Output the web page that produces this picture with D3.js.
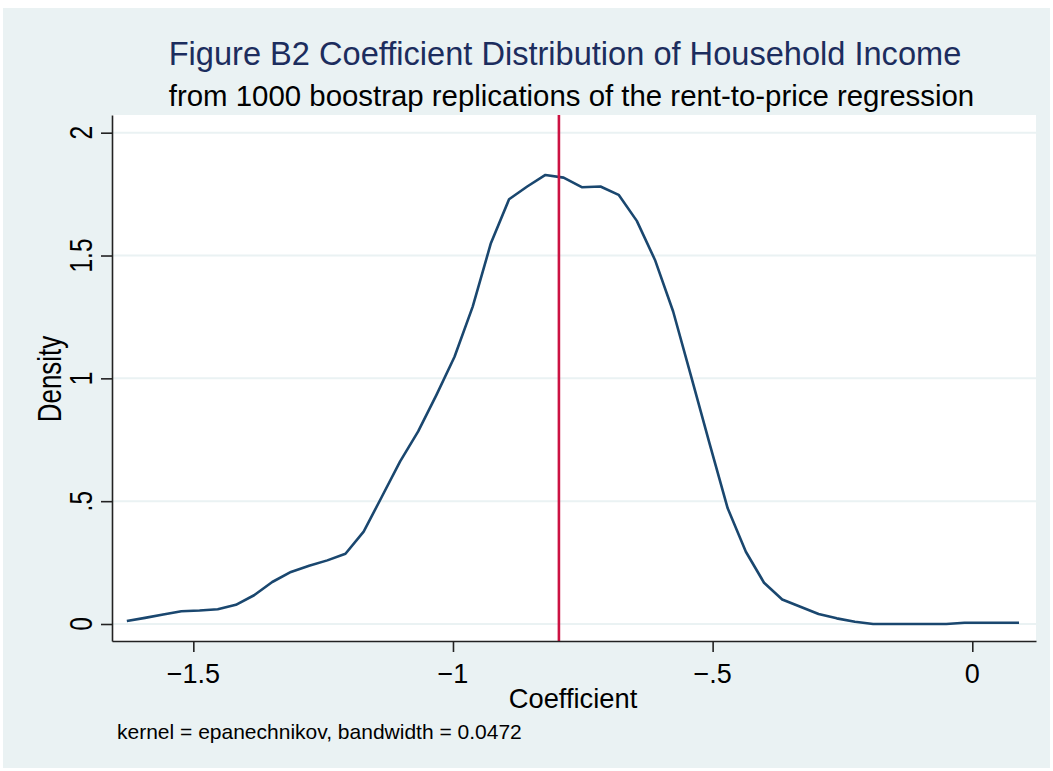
<!DOCTYPE html>
<html>
<head>
<meta charset="utf-8">
<script src="https://cdn.jsdelivr.net/npm/d3@7"></script>
<style>
  body { margin: 0; background: #fff; }
  text { font-family: "Liberation Sans", Arial, Helvetica, sans-serif; }
</style>
</head>
<body>
<div id="chart"></div>
<script>
// kernel density estimate, 50 evaluation points
var coef = [-1.628, -1.593, -1.558, -1.523, -1.488, -1.453, -1.418, -1.383, -1.348, -1.312,
            -1.277, -1.242, -1.207, -1.172, -1.137, -1.102, -1.067, -1.032, -0.997, -0.962,
            -0.927, -0.892, -0.857, -0.822, -0.787, -0.752, -0.716, -0.681, -0.646, -0.611,
            -0.576, -0.541, -0.506, -0.471, -0.436, -0.401, -0.366, -0.331, -0.296, -0.261,
            -0.226, -0.191, -0.156, -0.120, -0.085, -0.050, -0.015, 0.020, 0.055, 0.090];
var density = [0.012, 0.025, 0.039, 0.052, 0.055, 0.060, 0.078, 0.117, 0.171, 0.212,
               0.237, 0.259, 0.286, 0.376, 0.518, 0.661, 0.784, 0.932, 1.088, 1.292,
               1.550, 1.729, 1.781, 1.828, 1.817, 1.778, 1.781, 1.747, 1.641, 1.482,
               1.272, 1.005, 0.735, 0.471, 0.294, 0.168, 0.100, 0.070, 0.041, 0.023,
               0.009, 0.000, 0.000, 0.000, 0.000, 0.000, 0.005, 0.005, 0.005, 0.005];
var mean_coef = -0.796;

var x_ticks = [-1.5, -1, -0.5, 0];
var x_tick_labels = ['\u22121.5', '\u22121', '\u2212.5', '0'];
var y_ticks = [0, 0.5, 1, 1.5, 2];
var y_tick_labels = ['0', '.5', '1', '1.5', '2'];

var title = 'Figure B2 Coefficient Distribution of Household Income';
var subtitle = 'from 1000 boostrap replications of the rent-to-price regression';
var note = 'kernel = epanechnikov, bandwidth = 0.0472';

var W = 1053, H = 771;
var rot_sx = 1.25; // rotated text comes out wider in the export
var plot = {left: 112, right: 1036, top: 115, bottom: 641};
var bg = '#eaf2f3', axis_col = '#222';

var svg = d3.select('#chart').append('svg')
    .attr('width', W)
    .attr('height', H);

svg.append('rect')
    .attr('x', 3).attr('y', 8)
    .attr('width', W - 6).attr('height', H - 11)
    .attr('fill', bg);

svg.append('rect')
    .attr('x', plot.left).attr('y', plot.top)
    .attr('width', plot.right - plot.left).attr('height', plot.bottom - plot.top)
    .attr('fill', '#fff');

var x = d3.scaleLinear().domain([-1.6566, 0.1227]).range([plot.left, plot.right]);
var y = d3.scaleLinear().domain([-0.0692, 2.072]).range([plot.bottom, plot.top]);

// gridlines
svg.append('g').selectAll('line')
    .data(y_ticks)
    .enter().append('line')
    .attr('x1', plot.left).attr('x2', plot.right)
    .attr('y1', function(d){ return y(d); })
    .attr('y2', function(d){ return y(d); })
    .attr('stroke', bg)
    .attr('stroke-width', 2);

// density curve
var line = d3.line()
    .x(function(d, i){ return x(coef[i]); })
    .y(function(d){ return y(d); });

svg.append('path')
    .datum(density)
    .attr('d', line)
    .attr('fill', 'none')
    .attr('stroke', '#1a476f')
    .attr('stroke-width', 2.6)
    .attr('stroke-linejoin', 'round');

// mean coefficient
svg.append('line')
    .attr('x1', x(mean_coef)).attr('x2', x(mean_coef))
    .attr('y1', plot.top).attr('y2', plot.bottom)
    .attr('stroke', '#cc1242')
    .attr('stroke-width', 2.6);

// axes
var bottom_axis = svg.append('g')
    .attr('transform', 'translate(0,' + plot.bottom + ')')
    .call(d3.axisBottom(x).tickValues(x_ticks).tickSize(11).tickSizeOuter(0).tickFormat(''));
var left_axis = svg.append('g')
    .attr('transform', 'translate(' + plot.left + ',0)')
    .call(d3.axisLeft(y).tickValues(y_ticks).tickSize(11).tickSizeOuter(0).tickFormat(''));
[bottom_axis, left_axis].forEach(function(a){
    a.select('.domain').attr('stroke', axis_col).attr('stroke-width', 1.6);
    a.selectAll('.tick line').attr('stroke', axis_col).attr('stroke-width', 1.6);
});

svg.append('g').selectAll('text')
    .data(x_ticks)
    .enter().append('text')
    .attr('x', function(d){ return x(d); })
    .attr('y', 683)
    .attr('text-anchor', 'middle')
    .attr('font-size', 27)
    .attr('fill', '#000')
    .text(function(d, i){ return x_tick_labels[i]; });

svg.append('g').selectAll('text')
    .data(y_ticks)
    .enter().append('text')
    .attr('transform', function(d){ return 'translate(92,' + y(d) + ') scale(' + rot_sx + ',1) rotate(-90)'; })
    .attr('text-anchor', 'middle')
    .attr('font-size', 24.5)
    .attr('fill', '#000')
    .text(function(d, i){ return y_tick_labels[i]; });

// titles
svg.append('text')
    .attr('x', 565).attr('y', 65)
    .attr('text-anchor', 'middle')
    .attr('font-size', 32.6)
    .attr('fill', '#1c2d5e')
    .text(title);
svg.append('text')
    .attr('x', 571.5).attr('y', 106)
    .attr('text-anchor', 'middle')
    .attr('font-size', 29.4)
    .attr('fill', '#000')
    .text(subtitle);

svg.append('text')
    .attr('x', 573).attr('y', 708)
    .attr('text-anchor', 'middle')
    .attr('font-size', 27.3)
    .attr('fill', '#000')
    .text('Coefficient');
svg.append('text')
    .attr('transform', 'translate(61,379) scale(' + rot_sx + ',1) rotate(-90)')
    .attr('text-anchor', 'middle')
    .attr('font-size', 26)
    .attr('fill', '#000')
    .text('Density');

svg.append('text')
    .attr('x', 117).attr('y', 739)
    .attr('font-size', 21)
    .attr('fill', '#000')
    .text(note);
</script>
</body>
</html>
